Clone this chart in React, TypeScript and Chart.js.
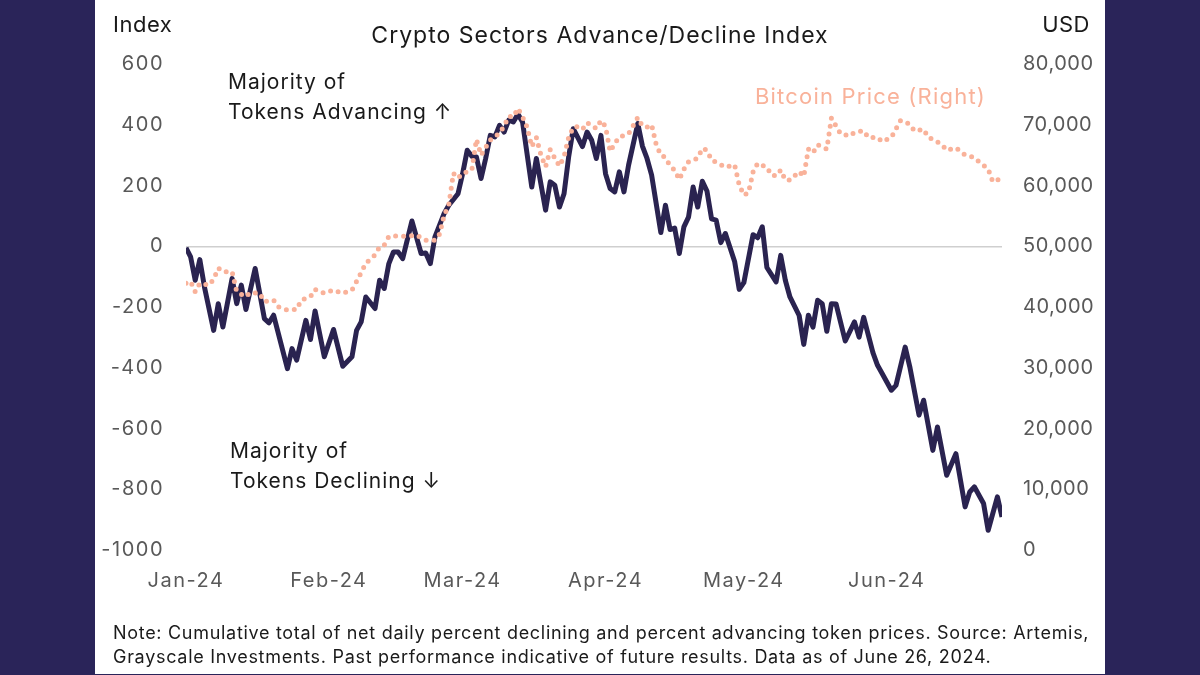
import React, { useEffect, useRef } from "react";
import { Chart, registerables } from "chart.js";

Chart.register(...registerables);

// Days since 1 Jan 2024 and cumulative advance/decline index
const indexDays = [
  0, 1, 2, 3, 4, 6, 7, 8, 10, 11,
  12, 13, 15, 17, 18, 19, 22, 23, 24, 26,
  27, 28, 30, 32, 34, 36, 37, 38, 39, 41,
  42, 43, 44, 45, 46, 47, 49, 51, 52, 53,
  54, 56, 57, 59, 60, 61, 62, 63, 64, 65,
  66, 67, 68, 69, 70, 71, 72, 73, 75, 76,
  78, 79, 80, 81, 82, 83, 84, 86, 87, 88,
  89, 90, 91, 92, 93, 94, 95, 96, 98, 99,
  100, 101, 103, 104, 105, 106, 107, 108, 109, 110,
  111, 112, 113, 114, 115, 116, 117, 119, 120, 121,
  123, 124, 125, 126, 128, 129, 130, 131, 133, 134,
  135, 136, 137, 138, 139, 140, 141, 143, 145, 146,
  147, 149, 150, 151, 153, 154, 156, 157, 159, 160,
  162, 163, 165, 167, 169, 170, 171, 173, 174, 176,
  177,
];
const indexValues = [
  -5, -35, -112, -44, -134, -277, -189, -266, -106, -189,
  -128, -208, -73, -238, -252, -227, -403, -337, -375, -244,
  -307, -213, -364, -274, -395, -364, -277, -249, -167, -205,
  -112, -139, -57, -19, -19, -41, 83, -24, -22, -57,
  31, 108, 135, 173, 239, 316, 296, 294, 223, 289,
  365, 360, 398, 376, 415, 409, 435, 409, 195, 289,
  119, 212, 201, 129, 173, 294, 387, 328, 376, 349,
  289, 365, 239, 190, 179, 245, 179, 267, 404, 330,
  289, 234, 45, 135, 55, 60, -24, 64, 96, 195,
  129, 214, 182, 90, 86, 12, 42, -50, -142, -120,
  38, 28, 64, -70, -117, -30, -112, -167, -228, -323,
  -227, -266, -178, -189, -280, -189, -190, -312, -249, -299,
  -234, -350, -392, -419, -474, -458, -332, -397, -556, -507,
  -672, -595, -754, -683, -858, -809, -792, -847, -935, -825,
  -891,
];

// Days since 1 Jan 2024 and Bitcoin price (USD)
const btcDays = [
  0, 1, 2, 3, 5, 6, 7, 8, 10, 11,
  13, 14, 16, 17, 19, 20, 22, 24, 25, 27,
  28, 30, 32, 34, 36, 37, 38, 39, 41, 42,
  43, 44, 46, 48, 50, 52, 54, 55, 56, 57,
  58, 59, 60, 62, 63, 64, 66, 68, 69, 70,
  71, 72, 73, 74, 75, 76, 77, 78, 79, 80,
  81, 82, 83, 84, 85, 86, 87, 89, 90, 91,
  92, 93, 94, 96, 98, 99, 100, 101, 102, 103,
  104, 105, 106, 107, 108, 109, 111, 112, 113, 114,
  115, 117, 119, 120, 121, 122, 123, 124, 126, 127,
  128, 129, 130, 131, 133, 134, 135, 136, 137, 139,
  140, 141, 142, 144, 145, 147, 148, 150, 151, 153,
  154, 155, 157, 158, 160, 161, 162, 164, 165, 167,
  169, 171, 172, 174, 175, 177,
];
const btcValues = [
  43900, 44200, 42500, 43900, 43600, 44600, 46400, 45800, 45800, 42500,
  41700, 42400, 42250, 40900, 41150, 40050, 39500, 39600, 41150, 41700,
  42900, 42250, 42800, 42250, 42800, 44200, 45650, 47200, 48560, 49900,
  50200, 51600, 51700, 51600, 51850, 51000, 51000, 52000, 55100, 56800,
  62000, 61200, 62000, 62550, 67600, 65000, 67500, 68600, 69800, 71400,
  71300, 72700, 71300, 69600, 66400, 67900, 65000, 63100, 65900, 64500,
  63200, 64750, 67900, 69600, 69700, 69250, 70350, 69400, 70700, 69700,
  65600, 66900, 68000, 68500, 71200, 69800, 69600, 70000, 66700, 65000,
  64600, 63200, 62550, 61000, 62670, 63900, 64500, 66100, 65800, 64200,
  63850, 63000, 63400, 60100, 58400, 58800, 62200, 63650, 63000, 61700,
  61600, 62550, 60900, 60900, 62300, 61500, 66000, 65400, 66700, 66000,
  71100, 69800, 68500, 68150, 68750, 69000, 67900, 67900, 67200, 67900,
  69300, 70700, 70100, 69000, 69250, 67900, 67650, 66700, 65800, 66200,
  65000, 64600, 63900, 62700, 60600, 61200,
];

const monthTickDays = [0, 31, 60, 91, 121, 152];
const monthLabels = ["Jan-24", "Feb-24", "Mar-24", "Apr-24", "May-24", "Jun-24"];

const NAVY = "#2a2459";
const LINE = "#2a2350";
const SALMON = "#f9b29a";
const FONT = "Inter, 'Noto Sans', sans-serif";

// Draw a scale's tick labels with extra letter spacing (wider reference typeface)
function spacedLabels(scale: any, spacing: string) {
  if (scale.__spaced) return;
  const orig = scale.drawLabels.bind(scale);
  scale.drawLabels = (area: any) => {
    const c: any = scale.ctx;
    const prev = c.letterSpacing;
    c.letterSpacing = spacing;
    orig(area);
    c.letterSpacing = prev || "0px";
  };
  scale.__spaced = true;
}

export default function App() {
  const ref = useRef<HTMLCanvasElement | null>(null);

  useEffect(() => {
    document.body.style.margin = "0";
    const canvas = ref.current!;
    const chart = new Chart(canvas, {
      type: "line",
      data: {
        datasets: [
          {
            label: "Bitcoin Price (Right)",
            data: btcDays.map((d, i) => ({ x: d, y: btcValues[i] })),
            yAxisID: "yR",
            borderColor: SALMON,
            borderWidth: 5,
            borderDash: [0, 8],
            borderCapStyle: "round",
            pointRadius: 0,
            tension: 0,
            order: 0,
          },
          {
            label: "Index",
            data: indexDays.map((d, i) => ({ x: d, y: indexValues[i] })),
            yAxisID: "yL",
            borderColor: LINE,
            borderWidth: 5,
            borderJoinStyle: "round",
            pointRadius: 0,
            tension: 0,
            order: 1,
          },
        ],
      },
      options: {
        responsive: false,
        animation: false,
        devicePixelRatio: 1,
        layout: { padding: { top: 64, left: 0, right: 0, bottom: 0 } },
        plugins: {
          legend: { display: false },
          tooltip: { enabled: false },
          title: { display: false },
        },
        scales: {
          x: {
            type: "linear",
            min: 0,
            max: 177,
            grid: { display: false, drawTicks: false },
            border: { display: false },
            afterBuildTicks: (scale: any) => {
              scale.ticks = monthTickDays.map((v) => ({ value: v }));
            },
            afterFit: (scale: any) => {
              scale.height = 125;
              spacedLabels(scale, "1.5px");
            },
            ticks: {
              autoSkip: false,
              maxRotation: 0,
              padding: 19,
              color: "#595959",
              font: { family: FONT, size: 20 },
              callback: (v: any) => {
                const i = monthTickDays.indexOf(Number(v));
                return i >= 0 ? monthLabels[i] : "";
              },
            },
          },
          yL: {
            type: "linear",
            position: "left",
            min: -1000,
            max: 600,
            border: { display: false },
            grid: {
              drawTicks: false,
              lineWidth: 1.5,
              color: (ctx: any) => (ctx.tick && ctx.tick.value === 0 ? "#cfcfcf" : "rgba(0,0,0,0)"),
            },
            afterFit: (scale: any) => {
              scale.width = 186;
              spacedLabels(scale, "1.5px");
            },
            ticks: {
              stepSize: 200,
              padding: 22,
              color: "#595959",
              font: { family: FONT, size: 20 },
              callback: (v: any) => String(v),
            },
          },
          yR: {
            type: "linear",
            position: "right",
            min: 0,
            max: 80000,
            border: { display: false },
            grid: { display: false, drawTicks: false },
            afterFit: (scale: any) => {
              scale.width = 198;
              spacedLabels(scale, "0.5px");
            },
            ticks: {
              stepSize: 10000,
              padding: 21,
              color: "#595959",
              font: { family: FONT, size: 20 },
              callback: (v: any) => Number(v).toLocaleString("en-US"),
            },
          },
        },
      },
    });
    return () => chart.destroy();
  }, []);

  const txt: React.CSSProperties = {
    position: "absolute",
    fontFamily: FONT,
    whiteSpace: "nowrap",
    margin: 0,
  };

  return (
    <div
      style={{
        position: "fixed",
        left: 0,
        top: 0,
        width: 1200,
        height: 675,
        background: NAVY,
        overflow: "hidden",
      }}
    >
      <div style={{ position: "absolute", left: 95, top: 0, width: 1010, height: 674, background: "#ffffff" }} />
      <canvas
        ref={ref}
        width={1200}
        height={675}
        style={{ position: "absolute", left: 0, top: 0, width: 1200, height: 675 }}
      />
      <div style={{ ...txt, left: 113, top: 13, fontSize: 22, lineHeight: "22px", letterSpacing: "0.5px", color: "#1a1a1a" }}>
        Index
      </div>
      <div style={{ ...txt, right: 1200 - 1090, top: 13, fontSize: 22, lineHeight: "22px", letterSpacing: "0.5px", color: "#1a1a1a" }}>
        USD
      </div>
      <div
        style={{
          ...txt,
          left: 0,
          width: 1200,
          textAlign: "center",
          top: 24,
          fontSize: 23,
          lineHeight: "23px",
          letterSpacing: "1px",
          color: "#1a1a1a",
        }}
      >
        Crypto Sectors Advance/Decline Index
      </div>
      <div style={{ ...txt, left: 228, top: 67, fontSize: 21, lineHeight: "30px", letterSpacing: "1px", color: "#1a1a1a" }}>
        Majority of
        <br />
        Tokens Advancing ↑
      </div>
      <div style={{ ...txt, left: 230, top: 436, fontSize: 21, lineHeight: "30px", letterSpacing: "1px", color: "#1a1a1a" }}>
        Majority of
        <br />
        Tokens Declining ↓
      </div>
      <div style={{ ...txt, left: 755, top: 85, fontSize: 22, lineHeight: "22px", letterSpacing: "1.2px", color: SALMON }}>
        Bitcoin Price (Right)
      </div>
      <div style={{ ...txt, left: 113, top: 621, fontSize: 18, lineHeight: "24px", letterSpacing: "0.7px", color: "#1a1a1a" }}>
        Note: Cumulative total of net daily percent declining and percent advancing token prices. Source: Artemis,
        <br />
        Grayscale Investments. Past performance indicative of future results. Data as of June 26, 2024.
      </div>
    </div>
  );
}
